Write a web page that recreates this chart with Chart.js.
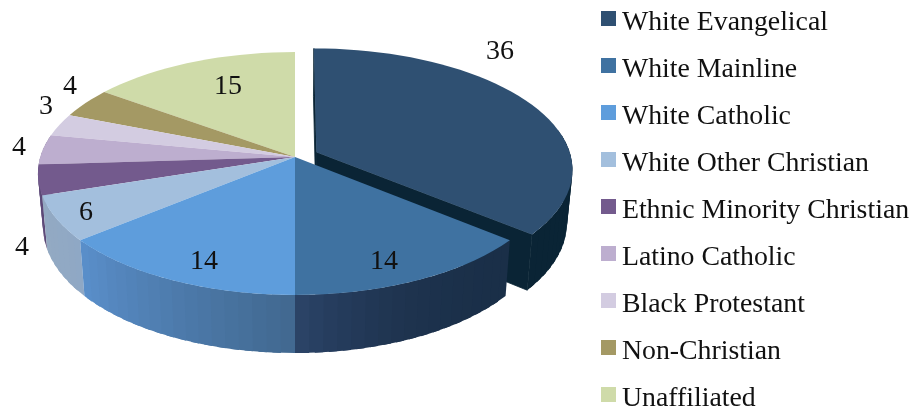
<!DOCTYPE html>
<html>
<head>
<meta charset="utf-8">
<style>html,body{margin:0;padding:0;background:#fff}canvas{display:block}</style>
<script src="https://cdn.jsdelivr.net/npm/chart.js@4/dist/chart.umd.min.js"></script>
</head>
<body>
<canvas id="c" width="914" height="412"></canvas>
<script>
const categories = ['White Evangelical','White Mainline','White Catholic','White Other Christian','Ethnic Minority Christian','Latino Catholic','Black Protestant','Non-Christian','Unaffiliated'];
const values = [36,14,14,6,4,4,3,4,15];
const explode = [14,0,0,0,0,0,0,0,0];
const topColors = ['#2F5072','#3F72A1','#5E9DDC','#A3BFDD','#735A8D','#BDAECF','#D3CCE1','#A49964','#CFDBA9'];
const wallFrom = ['#0A2435','#1A2F48','#41688F','#8FA8C5','#5D4A78','#9A8DAA','#ABA5B6','#847B50','#A7B188'];
const wallTo   = ['#0A2435','#2C4468','#5A8FCB','#94AAC2','#5D4A78','#9A8DAA','#ABA5B6','#847B50','#A7B188'];
const wallEase = [1,2.5,1,1,1,1,1,1,1];
const valueLabelAt = [[500,52],[384,262],[204,262],[86,213],[22,248],[19,148],[46,107],[70,87],[228,87]];

const FONT = '"Liberation Serif", serif';
const VIEW = {rx:254.7, ry:119.2, persp:0.136, depth:52.6, shrink:0.98};

function project(arc, u, v, low){
  const k = 1/(1 - VIEW.persp*v), s = low ? VIEW.shrink : 1;
  return [arc.x + VIEW.rx*u*k*s, arc.y + VIEW.ry*v*k*s + (low ? VIEW.depth*k : 0)];
}
function rgb(h){return [1,3,5].map(i=>parseInt(h.substr(i,2),16));}
function mix(a,b,t){const A=rgb(a),B=rgb(b);return 'rgb('+A.map((x,i)=>Math.round(x+(B[i]-x)*t)).join(',')+')';}
function poly(ctx,pts,col,edge){
  ctx.beginPath();pts.forEach((p,i)=>i?ctx.lineTo(p[0],p[1]):ctx.moveTo(p[0],p[1]));ctx.closePath();
  ctx.fillStyle=col;ctx.fill();
  if(edge){ctx.strokeStyle=col;ctx.lineWidth=edge;ctx.stroke();}
}
function drawSlice(ctx,arc,i,part){
  const mid=(arc.startAngle+arc.endAngle)/2, d=(arc.options.offset||0)/arc.outerRadius;
  const du=d*Math.cos(mid), dv=d*Math.sin(mid), n=Math.max(2,Math.ceil((arc.endAngle-arc.startAngle)/0.05));
  const pt=(j,low)=>{const a=arc.startAngle+(arc.endAngle-arc.startAngle)*j/n;return project(arc,du+Math.cos(a),dv+Math.sin(a),low);};
  const apex=low=>project(arc,du,dv,low);
  if(part==='wall'){
    if(d>0){
      poly(ctx,[apex(false),pt(0,false),pt(0,true),apex(true)],wallFrom[i],0.8);
      poly(ctx,[apex(false),pt(n,false),pt(n,true),apex(true)],wallTo[i],0.8);
    }
    for(let j=0;j<n;j++){
      const a=arc.startAngle+(arc.endAngle-arc.startAngle)*(j+.5)/n;
      if(Math.sin(a)<-0.2) continue;
      const e=Math.min(n,j+1.6);
      poly(ctx,[pt(j,false),pt(e,false),pt(e,true),pt(j,true)],mix(wallFrom[i],wallTo[i],Math.pow((j+.5)/n,wallEase[i])));
    }
  } else {
    const pts=[apex(false)];
    for(let j=0;j<=n;j++) pts.push(pt(j,false));
    poly(ctx,pts,topColors[i]);
  }
}
const pie3d = {
  id:'pie3d',
  beforeLayout(chart){
    const L=chart.legend;
    if(L && !L._patched){
      L._patched=true;
      const f=L.fit;
      L.fit=function(){const mh=this.maxHeight;this.maxHeight=700;f.call(this);this.maxHeight=mh;this.width=324;};
    }
  },
  afterLayout(chart){
    const L=chart.legend;
    L.left=588.8;L.right=940;L.top=-10.6;L.bottom=600;
  },
  beforeDatasetsDraw(chart){
    const ctx=chart.ctx, arcs=chart.getDatasetMeta(0).data;
    const order=arcs.map((a,i)=>i).sort((p,q)=>
      Math.sin((arcs[p].startAngle+arcs[p].endAngle)/2)-Math.sin((arcs[q].startAngle+arcs[q].endAngle)/2));
    ctx.save();
    order.forEach(i=>{
      if((arcs[i].options.offset||0)>0){drawSlice(ctx,arcs[i],i,'wall');drawSlice(ctx,arcs[i],i,'top');}
    });
    order.forEach(i=>{if(!(arcs[i].options.offset>0))drawSlice(ctx,arcs[i],i,'wall');});
    order.forEach(i=>{if(!(arcs[i].options.offset>0))drawSlice(ctx,arcs[i],i,'top');});
    ctx.fillStyle='#111';ctx.font='28px '+FONT;ctx.textAlign='center';ctx.textBaseline='middle';
    values.forEach((v,i)=>ctx.fillText(String(v),valueLabelAt[i][0],valueLabelAt[i][1]));
    ctx.restore();
    return false;
  }
};
const swatches = topColors.map(col=>{
  const s=document.createElement('canvas');s.width=15;s.height=23;
  const g=s.getContext('2d');g.fillStyle=col;g.fillRect(0,0,15,15);return s;
});
new Chart(document.getElementById('c'),{
  type:'pie',
  data:{labels:categories,datasets:[{data:values,backgroundColor:topColors,offset:explode,borderWidth:0}]},
  options:{
    responsive:false,animation:false,
    layout:{padding:{left:0,right:0,top:0,bottom:98}},
    plugins:{
      tooltip:{enabled:false},
      legend:{position:'right',align:'start',labels:{
        usePointStyle:true,pointStyleWidth:0.01,padding:19.2,color:'#111',
        font:{family:FONT,size:27.8},
        generateLabels(chart){
          return Chart.overrides.doughnut.plugins.legend.labels.generateLabels(chart)
            .map((it,i)=>Object.assign(it,{pointStyle:swatches[i]}));
        }
      }}
    }
  },
  plugins:[pie3d]
});
</script>
</body>
</html>
